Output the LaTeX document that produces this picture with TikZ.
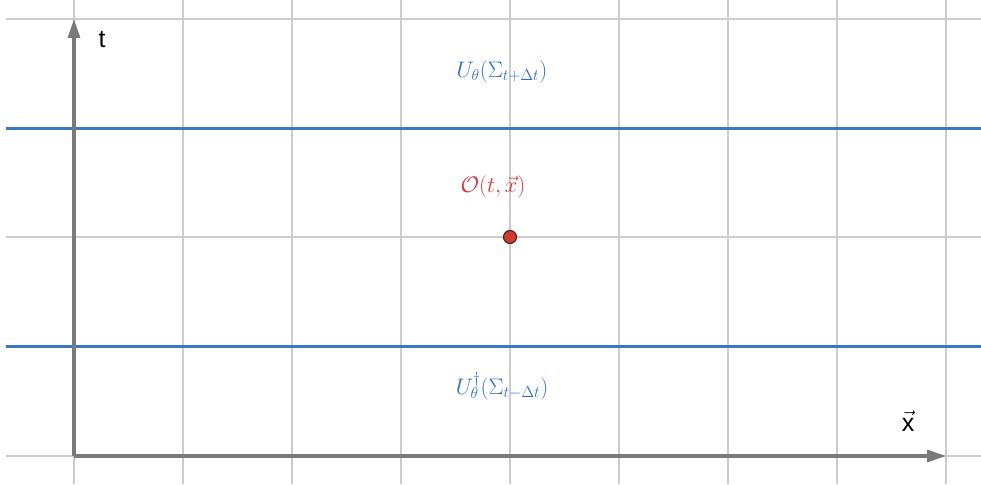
\RequirePackage{fix-cm}
\documentclass[tikz,border=0pt]{standalone}
\usepackage{fontspec}
\setsansfont{Liberation Sans}
\usetikzlibrary{arrows.meta}
\definecolor{gridc}{HTML}{CCCCCC}
\definecolor{axisc}{HTML}{7A7A7A}
\definecolor{bluec}{HTML}{3A78C2}
\definecolor{bluet}{HTML}{2F6FC4}
\definecolor{redt}{HTML}{D8373F}
\definecolor{redp}{HTML}{D63A2F}
\tikzset{
  gridline/.style={draw=gridc, line width=1.6pt},
  axisline/.style={draw=axisc, line width=3.2pt, -{Triangle[length=19pt,width=12pt]}},
  sliceline/.style={draw=bluec, line width=3pt},
  mathlbl/.style={font=\fontsize{22.5}{26}\selectfont, inner sep=0pt},
  axlbl/.style={font=\sffamily\fontsize{25}{28}\selectfont, inner sep=0pt}
}
\begin{document}
\begin{tikzpicture}[x=1pt,y=-1pt]
\useasboundingbox (0,0) rectangle (981,484);
\fill[white] (0,0) rectangle (981,484);
% grid
\foreach \gx in {74,183,292,401,510,619,728,837,946}
  \draw[gridline] (\gx,0) -- (\gx,484);
\foreach \gy in {19,128,237,346,456}
  \draw[gridline] (6,\gy) -- (981,\gy);
% slices
\coordinate (s1l) at (6,128); \coordinate (s1r) at (981,128);
\coordinate (s2l) at (6,346); \coordinate (s2r) at (981,346);
\draw[sliceline] (s1l) -- (s1r);
\draw[sliceline] (s2l) -- (s2r);
% axes
\coordinate (o) at (74,456);
\coordinate (ty) at (74,19);
\coordinate (tx) at (946,456);
\draw[axisline] (o) -- (ty);
\draw[axisline] (o) -- (tx);
\node[axlbl] (tl) at (102,40) {t};
\node[axlbl] (xl) at (908,421) {$\vec{\mbox{x}}$};
% labels
\node[mathlbl, text=bluet] (up) at (502,72) {$U_\theta(\Sigma_{t+\Delta t})$};
\node[mathlbl, text=redt] (op) at (493,187) {$\mathcal{O}(t,\vec{x})$};
\node[mathlbl, text=bluet] (dn) at (502,386) {$U_\theta^\dagger(\Sigma_{t-\Delta t})$};
% point
\node[circle, fill=redp, draw=black!80, line width=1.2pt, minimum size=13pt, inner sep=0pt] (pt) at (510,237) {};
\end{tikzpicture}
\end{document}
